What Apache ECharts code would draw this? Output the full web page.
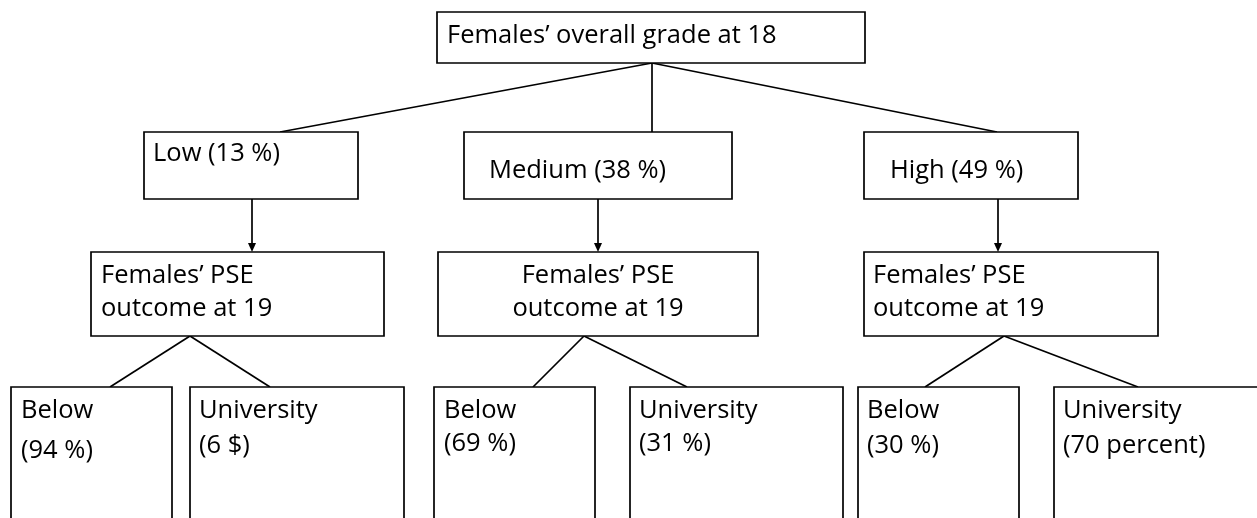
<!DOCTYPE html>
<html>
<head>
<meta charset="utf-8">
<script src="https://cdn.jsdelivr.net/npm/echarts@6/dist/echarts.min.js"></script>
<style>
  html, body { margin: 0; padding: 0; background: #ffffff; }
  #chart { width: 1257px; height: 518px; }
</style>
</head>
<body>
<div id="chart"></div>
<script>
// ---------- Data (text content of the tree) ----------
const rootTitle = 'Females’ overall grade at 18';
const gradeNames = ['Low', 'Medium', 'High'];
const gradeShares = ['13 %', '38 %', '49 %'];
const outcomeTitle = ['Females’ PSE', 'outcome at 19'];
const leafNames = ['Below', 'University'];
const belowShares = ['(94 %)', '(69 %)', '(30 %)'];
const universityShares = ['(6 $)', '(31 %)', '(70 percent)'];

// ---------- Layout (diagram geometry in axis units) ----------
const W = 1257, H = 518;
const rootBox = [437, 12, 865, 63];
const rootText = [447, 36];
const gradeBoxes = [[144, 132, 358, 199], [464, 132, 732, 199], [864, 132, 1078, 199]];
const gradeText = [[153, 'left', 154], [489, 'left', 171], [890, 'left', 171]];
const gradeLinkTop = [280, 652, 997];
const rootLinkFrom = [652, 63];
const outcomeBoxes = [[91, 252, 384, 336], [438, 252, 758, 336], [864, 252, 1158, 336]];
const outcomeText = [[101, 'left'], [598, 'center'], [873, 'left']];
const outcomeLineY = [276, 309];
const arrowX = [252, 598, 998];
const apexX = [190, 584, 1004];
const leafLinkX = [[110, 270], [533, 687], [925, 1138]];
const leafTop = 387, leafBottom = 540;
const leafBoxX = [[[11, 172], [190, 404]], [[434, 595], [630, 843]], [[858, 1019], [1054, 1270]]];
const leafTextX = [[21, 199], [444, 639], [867, 1063]];
const leafLineY = [[[411, 451], [411, 446]], [[411, 444], [411, 444]], [[411, 446], [411, 446]]];

const FONT = '"Open Sans"';
const FS = 25.5;
const LW = 1.7;

const boxes = [];
boxes.push({ value: rootBox, lines: [rootTitle], tx: rootText[0], align: 'left', ys: [rootText[1]] });
gradeNames.forEach((g, i) => {
  boxes.push({ value: gradeBoxes[i], lines: [g + ' (' + gradeShares[i] + ')'], tx: gradeText[i][0], align: gradeText[i][1], ys: [gradeText[i][2]] });
  boxes.push({ value: outcomeBoxes[i], lines: outcomeTitle, tx: outcomeText[i][0], align: outcomeText[i][1], ys: outcomeLineY });
  const shares = [belowShares[i], universityShares[i]];
  leafNames.forEach((n, j) => {
    const bx = leafBoxX[i][j];
    boxes.push({ value: [bx[0], leafTop, bx[1], leafBottom], lines: [n, shares[j]], tx: leafTextX[i][j], align: 'left', ys: leafLineY[i][j] });
  });
});

const links = [];
gradeLinkTop.forEach(x => links.push({ value: [rootLinkFrom[0], rootLinkFrom[1], x, gradeBoxes[0][1]], arrow: false }));
arrowX.forEach((x, i) => links.push({ value: [x, gradeBoxes[i][3], x, outcomeBoxes[i][1]], arrow: true }));
apexX.forEach((x, i) => {
  leafLinkX[i].forEach(lx => links.push({ value: [x, outcomeBoxes[i][3], lx, leafTop], arrow: false }));
});

const chart = echarts.init(document.getElementById('chart'), null, { renderer: 'canvas' });

chart.setOption({
  animation: false,
  backgroundColor: '#ffffff',
  grid: { left: 0, right: 0, top: 0, bottom: 0 },
  xAxis: { type: 'value', min: 0, max: W, show: false },
  yAxis: { type: 'value', min: 0, max: H, inverse: true, show: false },
  series: [
    {
      type: 'custom',
      coordinateSystem: 'cartesian2d',
      clip: false,
      data: links,
      renderItem: function (params, api) {
        const d = links[params.dataIndex];
        const p0 = api.coord([d.value[0], d.value[1]]);
        const p1 = api.coord([d.value[2], d.value[3]]);
        const children = [];
        if (d.arrow) {
          const tipY = p1[1];
          children.push({ type: 'line', shape: { x1: p0[0], y1: p0[1], x2: p1[0], y2: tipY - 6 }, style: { stroke: '#000', lineWidth: LW } });
          children.push({ type: 'polygon', shape: { points: [[p1[0] - 4, tipY - 9], [p1[0] + 4, tipY - 9], [p1[0], tipY]] }, style: { fill: '#000' } });
        } else {
          children.push({ type: 'line', shape: { x1: p0[0], y1: p0[1], x2: p1[0], y2: p1[1] }, style: { stroke: '#000', lineWidth: LW } });
        }
        return { type: 'group', children: children };
      }
    },
    {
      type: 'custom',
      coordinateSystem: 'cartesian2d',
      clip: false,
      data: boxes,
      renderItem: function (params, api) {
        const b = boxes[params.dataIndex];
        const a = api.coord([b.value[0], b.value[1]]);
        const c = api.coord([b.value[2], b.value[3]]);
        const children = [{
          type: 'rect',
          shape: { x: a[0], y: a[1], width: c[0] - a[0], height: c[1] - a[1] },
          style: { fill: '#fff', stroke: '#000', lineWidth: LW }
        }];
        b.lines.forEach((t, k) => {
          const p = api.coord([b.tx, b.ys[k]]);
          children.push({
            type: 'text',
            style: { text: t, x: p[0], y: p[1], align: b.align, verticalAlign: 'middle', fill: '#000', font: FS + 'px ' + FONT }
          });
        });
        return { type: 'group', children: children };
      }
    }
  ]
});
</script>
</body>
</html>
